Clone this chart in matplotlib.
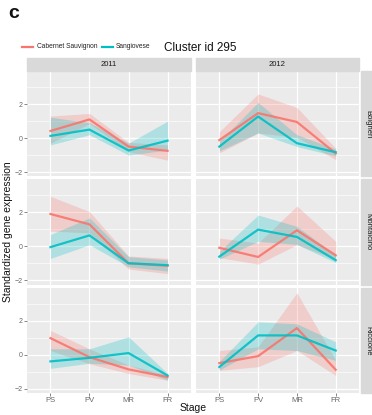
import matplotlib.pyplot as plt
from matplotlib.patches import Rectangle
from matplotlib.lines import Line2D

plt.rcParams['font.family'] = ['Liberation Sans', 'DejaVu Sans']

stages = ["PS", "PV", "MR", "FR"]
years = ["2011", "2012"]
sites = ["Bolgheri", "Montalcino", "Riccione"]

# Bolgheri
bol11_cab = [0.42, 1.10, -0.50, -0.75]
bol11_cab_lo = [-0.30, 0.85, -0.80, -1.30]
bol11_cab_hi = [1.30, 1.45, -0.25, -0.40]
bol11_san = [0.13, 0.50, -0.73, -0.15]
bol11_san_lo = [-0.40, 0.20, -1.00, -0.70]
bol11_san_hi = [1.23, 0.90, -0.30, 1.00]
bol12_cab = [-0.12, 1.47, 0.95, -0.90]
bol12_cab_lo = [-0.87, 0.30, 0.05, -1.27]
bol12_cab_hi = [0.37, 2.60, 1.80, -0.60]
bol12_san = [-0.50, 1.27, -0.30, -0.83]
bol12_san_lo = [-0.75, 0.30, -0.50, -1.05]
bol12_san_hi = [-0.20, 2.10, 0.20, -0.65]

# Montalcino
mon11_cab = [1.91, 1.30, -0.99, -1.14]
mon11_cab_lo = [0.90, 0.80, -1.33, -1.60]
mon11_cab_hi = [2.95, 2.05, -0.56, -0.70]
mon11_san = [-0.04, 0.65, -0.99, -1.10]
mon11_san_lo = [-0.71, 0.10, -1.20, -1.45]
mon11_san_hi = [0.70, 1.68, -0.60, -0.80]
mon12_cab = [-0.08, -0.62, 0.95, -0.52]
mon12_cab_lo = [-0.66, -1.04, 0.10, -0.75]
mon12_cab_hi = [0.50, 0.20, 2.38, 0.30]
mon12_san = [-0.60, 0.99, 0.56, -0.81]
mon12_san_lo = [-0.75, 0.30, 0.12, -0.95]
mon12_san_hi = [-0.30, 1.85, 1.18, -0.50]

# Riccione
ric11_cab = [0.98, -0.14, -0.86, -1.31]
ric11_cab_lo = [0.25, -0.53, -1.10, -1.50]
ric11_cab_hi = [1.43, 0.35, -0.60, -1.20]
ric11_san = [-0.39, -0.18, 0.10, -1.22]
ric11_san_lo = [-0.80, -0.50, -0.60, -1.50]
ric11_san_hi = [0.35, 0.35, 1.06, -1.10]
ric12_cab = [-0.49, -0.08, 1.57, -0.88]
ric12_cab_lo = [-0.92, -0.70, 0.25, -1.22]
ric12_cab_hi = [0.25, 0.47, 3.65, -0.33]
ric12_san = [-0.72, 1.14, 1.14, 0.25]
ric12_san_lo = [-0.90, 0.35, 0.25, -0.33]
ric12_san_hi = [-0.40, 1.94, 1.82, 0.76]

panels = [
    [(bol11_cab, bol11_cab_lo, bol11_cab_hi, bol11_san, bol11_san_lo, bol11_san_hi),
     (bol12_cab, bol12_cab_lo, bol12_cab_hi, bol12_san, bol12_san_lo, bol12_san_hi)],
    [(mon11_cab, mon11_cab_lo, mon11_cab_hi, mon11_san, mon11_san_lo, mon11_san_hi),
     (mon12_cab, mon12_cab_lo, mon12_cab_hi, mon12_san, mon12_san_lo, mon12_san_hi)],
    [(ric11_cab, ric11_cab_lo, ric11_cab_hi, ric11_san, ric11_san_lo, ric11_san_hi),
     (ric12_cab, ric12_cab_lo, ric12_cab_hi, ric12_san, ric12_san_lo, ric12_san_hi)],
]

RED = "#F8766D"
TEAL = "#00BFC4"
W, H = 372, 415

fig = plt.figure(figsize=(W / 100, H / 100), dpi=100)


def fx(px):
    return px / W


def fy(py):
    return 1 - py / H


col_x = [(27, 191), (196, 359)]
top, bottom, gap = 71, 393, 3
rh = (bottom - top - 2 * gap) / 3
xs = list(range(len(stages)))

for r in range(3):
    y0 = top + r * (rh + gap)
    for c in range(2):
        x0, x1 = col_x[c]
        ax = fig.add_axes([fx(x0), fy(y0 + rh), fx(x1 - x0), rh / H])
        ax.set_facecolor("#EBEBEB")
        for s in ax.spines.values():
            s.set_visible(False)
        ax.set_xlim(-0.6, 3.6)
        ax.set_ylim(-2.25, 3.95)
        ax.set_yticks([-2, 0, 2])
        ax.set_yticks([-1, 1, 3], minor=True)
        ax.set_xticks(xs)
        ax.grid(True, which="major", color="white", lw=0.9)
        ax.grid(True, which="minor", axis="y", color="white", lw=0.45)
        ax.set_axisbelow(True)
        ax.tick_params(which="minor", length=0)
        ax.tick_params(which="major", length=2, width=0.5, color="#555555",
                       labelsize=5, labelcolor="#666666", pad=1)
        cab, cab_lo, cab_hi, san, san_lo, san_hi = panels[r][c]
        ax.fill_between(xs, cab_lo, cab_hi, color=RED, alpha=0.25, lw=0)
        ax.fill_between(xs, san_lo, san_hi, color=TEAL, alpha=0.25, lw=0)
        ax.plot(xs, cab, color=RED, lw=1.6, alpha=0.9)
        ax.plot(xs, san, color=TEAL, lw=1.6, alpha=0.9)
        if c == 1:
            ax.tick_params(axis="y", left=False, labelleft=False)
        if r < 2:
            ax.tick_params(axis="x", bottom=False, labelbottom=False)
        else:
            ax.set_xticklabels(stages, fontsize=5.5)
        if r == 0:
            fig.patches.append(Rectangle((fx(x0), fy(71)), fx(x1 - x0), 13 / H,
                                         transform=fig.transFigure,
                                         color="#D9D9D9", zorder=0))
            fig.text(fx((x0 + x1) / 2), fy(64.5), years[c], fontsize=5.5,
                     color="#1A1A1A", ha="center", va="center")
    fig.patches.append(Rectangle((fx(361), fy(y0 + rh)), fx(16), rh / H,
                                 transform=fig.transFigure,
                                 color="#D9D9D9", zorder=0))
    fig.text(fx(367.5), fy(y0 + rh / 2), sites[r], fontsize=5.5, rotation=270,
             color="#1A1A1A", ha="center", va="center")

fig.text(fx(8), fy(232), "Standardized gene expression", rotation=90,
         fontsize=7.5, ha="center", va="center", color="#111111")
fig.text(fx(193), fy(408), "Stage", fontsize=7.5, ha="center", va="center",
         color="#111111")

# legend + title row
fig.lines.append(Line2D([fx(22), fx(33)], [fy(47), fy(47)], color=RED, lw=1.6,
                        transform=fig.transFigure))
fig.text(fx(37), fy(47), "Cabernet Sauvignon", fontsize=4.8, va="center",
         color="#222222")
fig.lines.append(Line2D([fx(102), fx(113)], [fy(47), fy(47)], color=TEAL, lw=1.6,
                        transform=fig.transFigure))
fig.text(fx(116), fy(47), "Sangiovese", fontsize=4.8, va="center", color="#222222")
fig.text(fx(164), fy(48), "Cluster id 295", fontsize=8.5, va="center",
         color="#111111")
fig.text(fx(8), fy(14), "c", fontsize=14, fontweight="bold", va="center",
         color="#111111")

fig.savefig("out.png", dpi=100)
